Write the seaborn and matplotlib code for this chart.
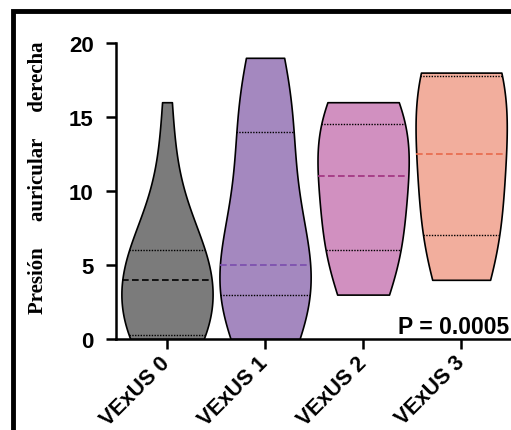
import numpy as np
import pandas as pd
import matplotlib
matplotlib.use("Agg")
import matplotlib.pyplot as plt
from matplotlib.patches import Rectangle
import seaborn as sns

# Data
groups = ['VExUS 0', 'VExUS 1', 'VExUS 2', 'VExUS 3']
vexus0 = [0, 0, 0, 0, 0, 0, 0.4, 1, 2, 3, 3, 4, 4, 4.5, 5, 5, 5.5, 6, 6, 7, 8, 10, 12, 16]
vexus1 = [0, 0, 1, 2, 3, 3, 3, 3, 4, 4, 5, 5, 5, 6, 8, 10, 12, 14, 14, 15, 16, 17, 18, 19]
vexus2 = [3, 5, 6, 6, 8, 10, 12, 13, 14.5, 14.5, 15, 16]
vexus3 = [4, 6, 7, 7, 11, 12.5, 15, 17.5, 18, 18, 18]
p_text = 'P = 0.0005'

fill_colors = ['#7b7b7b', '#a488bf', '#d190c0', '#f2ae9d']
median_colors = ['#000000', '#7a4dae', '#a0307e', '#e8694b']

df = pd.DataFrame({
    'group': np.repeat(groups, [len(vexus0), len(vexus1), len(vexus2), len(vexus3)]),
    'value': vexus0 + vexus1 + vexus2 + vexus3,
})

sns.set_style('ticks')
plt.rcParams['font.family'] = ['Liberation Sans', 'DejaVu Sans']
for k in ['text.color', 'axes.labelcolor', 'xtick.color', 'ytick.color', 'axes.edgecolor']:
    plt.rcParams[k] = 'black'

fig = plt.figure(figsize=(5.11, 4.31), dpi=100)
ax = fig.add_axes([0.227, 0.2111, 0.7906, 0.6868])

sns.violinplot(data=df, x='group', y='value', hue='group', palette=fill_colors,
               saturation=1, cut=0, inner='quart', density_norm='width', width=0.93,
               linecolor='black', linewidth=1.2, bw_adjust=1.4, legend=False, ax=ax)

# restyle the quartile lines: medians coloured dashed, quartiles dotted black
for i, line in enumerate(ax.lines):
    g = i // 3
    if i % 3 == 1:
        line.set_color(median_colors[g])
        line.set_linestyle((0, (4, 2)))
        line.set_linewidth(1.2)
    else:
        line.set_color('black')
        line.set_linestyle((0, (1, 1)))
        line.set_linewidth(1.0)

ax.set_xlim(-0.52, 3.6)
ax.set_ylim(0, 20)
ax.set_yticks([0, 5, 10, 15, 20])
sns.despine(ax=ax)
for s in ['left', 'bottom']:
    ax.spines[s].set_linewidth(1.8)
ax.tick_params(axis='both', width=1.8, length=7.5, direction='out')
ax.tick_params(axis='y', pad=8.5)
ax.tick_params(axis='x', pad=7)
for lab in ax.get_yticklabels():
    lab.set_fontsize(16)
    lab.set_fontweight('bold')
ax.set_xlabel('')
ax.set_ylabel('')
ax.set_xticks(range(4))
ax.set_xticklabels(groups, rotation=45, ha='right', va='center', rotation_mode='anchor',
                   fontsize=15.5, fontweight='bold')

fig.text(38 / 511, 1 - 178 / 431, 'Presión     auricular     derecha', rotation=90,
         ha='center', va='center', fontsize=15, fontweight='bold',
         family=['Liberation Serif', 'DejaVu Serif'])

ax.text(2.36, 0.1, p_text, fontsize=16.5, fontweight='bold', ha='left', va='bottom')

# black frame of the original panel
fig.patches.append(Rectangle((0.0254, -0.5), 2, 1.472, transform=fig.transFigure,
                             fill=False, edgecolor='black', linewidth=3.5))

fig.savefig('out.png', dpi=100)
